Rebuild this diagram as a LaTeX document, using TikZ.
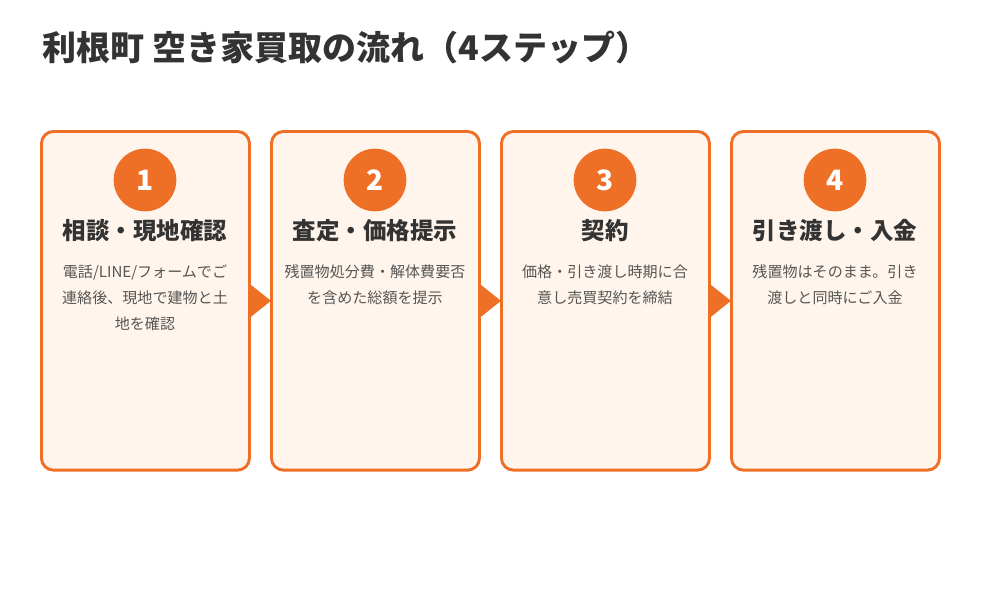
\documentclass[tikz,border=0pt]{standalone}
\usepackage{fontspec}
\setmainfont{Noto Sans CJK JP}
\usetikzlibrary{positioning}
\definecolor{accent}{HTML}{EE7027}
\definecolor{cardbg}{HTML}{FFF5EC}
\definecolor{ink}{HTML}{333333}
\definecolor{bodytext}{HTML}{555555}
\begin{document}
\begin{tikzpicture}[
    x=0.75pt, y=-0.75pt,
    card/.style={
        draw=accent,
        line width=2.2pt,
        fill=cardbg,
        rounded corners=9pt,
        minimum width=156pt,
        minimum height=254pt,
        anchor=north west
    },
    badge/.style={
        circle,
        fill=accent,
        minimum size=47pt,
        inner sep=0pt,
        text=white,
        font=\bfseries\fontsize{21}{21}\selectfont
    },
    steptitle/.style={
        font=\bfseries\fontsize{17.6}{19}\selectfont,
        text=ink
    },
    stepbody/.style={
        font=\fontsize{11.3}{19.5}\selectfont,
        text=bodytext,
        align=center,
        anchor=north
    },
    pointer/.style={
        fill=accent,
        draw=none
    }
]
\useasboundingbox (0,0) rectangle (1000,600);

% Titel
\node[anchor=west, text=ink, font=\bfseries\fontsize{25.5}{27}\selectfont] (title) at (38,48) {利根町 空き家買取の流れ（4ステップ）};

% Karten
\node[card] (c1) at (40,130) {};
\node[card] (c2) at (270,130) {};
\node[card] (c3) at (500,130) {};
\node[card] (c4) at (730,130) {};

% Nummern
\node[badge] (n1) at (145,180) {1};
\node[badge] (n2) at (375,180) {2};
\node[badge] (n3) at (605,180) {3};
\node[badge] (n4) at (835,180) {4};

% Schritte
\node[steptitle] (t1) at (145,231) {相談・現地確認};
\node[steptitle] (t2) at (375,231) {査定・価格提示};
\node[steptitle] (t3) at (605,231) {契約};
\node[steptitle] (t4) at (835,231) {引き渡し・入金};

\node[stepbody] (b1) at (145,260) {電話/LINE/フォームでご\\連絡後、現地で建物と土\\地を確認};
\node[stepbody] (b2) at (375,260) {残置物処分費・解体費要否\\を含めた総額を提示};
\node[stepbody] (b3) at (605,260) {価格・引き渡し時期に合\\意し売買契約を締結};
\node[stepbody] (b4) at (835,260) {残置物はそのまま。引き\\渡しと同時にご入金};

% Pfeile
\foreach \a/\b in {c1/c2, c2/c3, c3/c4} {
    \fill[pointer] ([yshift=12pt]\a.east) -- ([xshift=15pt]\a.east) -- ([yshift=-12pt]\a.east) -- cycle;
}
\end{tikzpicture}
\end{document}
